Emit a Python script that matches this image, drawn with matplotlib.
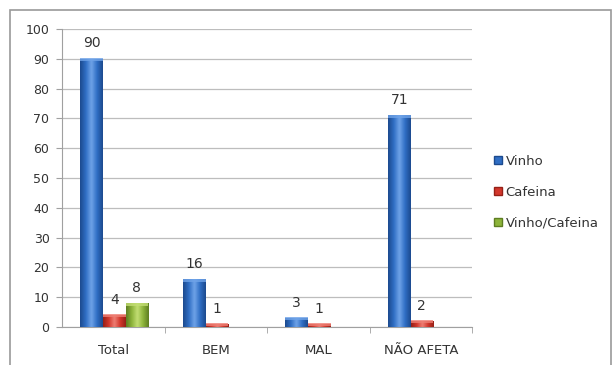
import numpy as np
import matplotlib.pyplot as plt
from matplotlib.patches import Rectangle
from matplotlib.lines import Line2D
from matplotlib.colors import LinearSegmentedColormap

# Daten
categorias = ["Total", "BEM", "MAL", "NÃO AFETA"]
series = ["Vinho", "Cafeina", "Vinho/Cafeina"]
vinho = [90, 16, 3, 71]
cafeina = [4, 1, 1, 2]
vinho_cafeina = [8, 0, 0, 0]

valores = [vinho, cafeina, vinho_cafeina]
cores = ["#2F6EC4", "#D2372C", "#8DB43A"]
escuras = ["#1C4A8E", "#962017", "#5E7E22"]
claras = ["#6FA3E8", "#EE7F74", "#C3DE74"]

fig = plt.figure(figsize=(6.16, 3.65), dpi=100)
fig.patch.set_facecolor("white")

# moldura externa
fig.patches.append(Rectangle((10 / 616, -0.2), 601 / 616, 1.2 - 10 / 365,
                             transform=fig.transFigure, fill=False,
                             edgecolor="#9A9A9A", linewidth=1.2))

ax = fig.add_axes([62 / 616, 38 / 365, 410 / 616, 298 / 365])

x = np.arange(len(categorias))
largura = 0.22
grad = np.linspace(0, 1, 64)

for i, (vals, cor) in enumerate(zip(valores, cores)):
    pos = x + (i - 1) * largura + 0.01
    barras = ax.bar(pos, vals, width=largura, color=cor, edgecolor="none", zorder=3)
    # gradiente horizontal (efeito cilindro)
    cmap = LinearSegmentedColormap.from_list("c%d" % i, [escuras[i], cor, claras[i], cor, escuras[i]])
    for p, b, v in zip(pos, barras, vals):
        if v <= 0:
            continue
        x0 = b.get_x()
        img = ax.imshow(grad[np.newaxis, :], cmap=cmap, aspect="auto",
                        extent=(x0, x0 + largura, 0, v), zorder=3.5,
                        interpolation="bicubic")
        img.set_clip_path(b)
        # tampa do cilindro
        ax.add_patch(Rectangle((x0, v - 0.8), largura, 1.0, facecolor=claras[i],
                               edgecolor="none", alpha=0.8, zorder=4))
        ax.text(p, v + 2.8, str(v), ha="center", va="bottom",
                fontsize=10, color="#333333", zorder=5)

ax.set_xlim(-0.5, len(categorias) - 0.5)
ax.set_ylim(0, 100)

ax.set_yticks(range(0, 101, 10))
ax.yaxis.grid(True, color="#BDBDBD", linewidth=0.9, zorder=0)
ax.set_axisbelow(True)
ax.set_xticks(x)
ax.set_xticklabels(categorias)
ax.tick_params(axis="x", length=0, pad=12, labelsize=9.5, labelcolor="#333333")
ax.tick_params(axis="y", length=4, color="#A0A0A0", labelsize=9, labelcolor="#333333", pad=5)
ax.set_xticks(np.arange(0.5, len(categorias), 1), minor=True)
ax.tick_params(axis="x", which="minor", length=4, color="#A0A0A0")

for s in ["top", "right"]:
    ax.spines[s].set_visible(False)
ax.spines["left"].set_color("#A0A0A0")
ax.spines["bottom"].set_color("#A0A0A0")

# legenda
handles = [Line2D([], [], marker="s", linestyle="none", markersize=6,
                  markerfacecolor=c, markeredgecolor=e) for c, e in zip(cores, escuras)]
fig.legend(handles, series, loc="upper left", bbox_to_anchor=(480 / 616, 1 - 143 / 365),
           frameon=False, fontsize=9.5, labelspacing=1.35, handletextpad=0.05,
           handlelength=1.0, labelcolor="#333333")

fig.savefig("out.png", dpi=100)
